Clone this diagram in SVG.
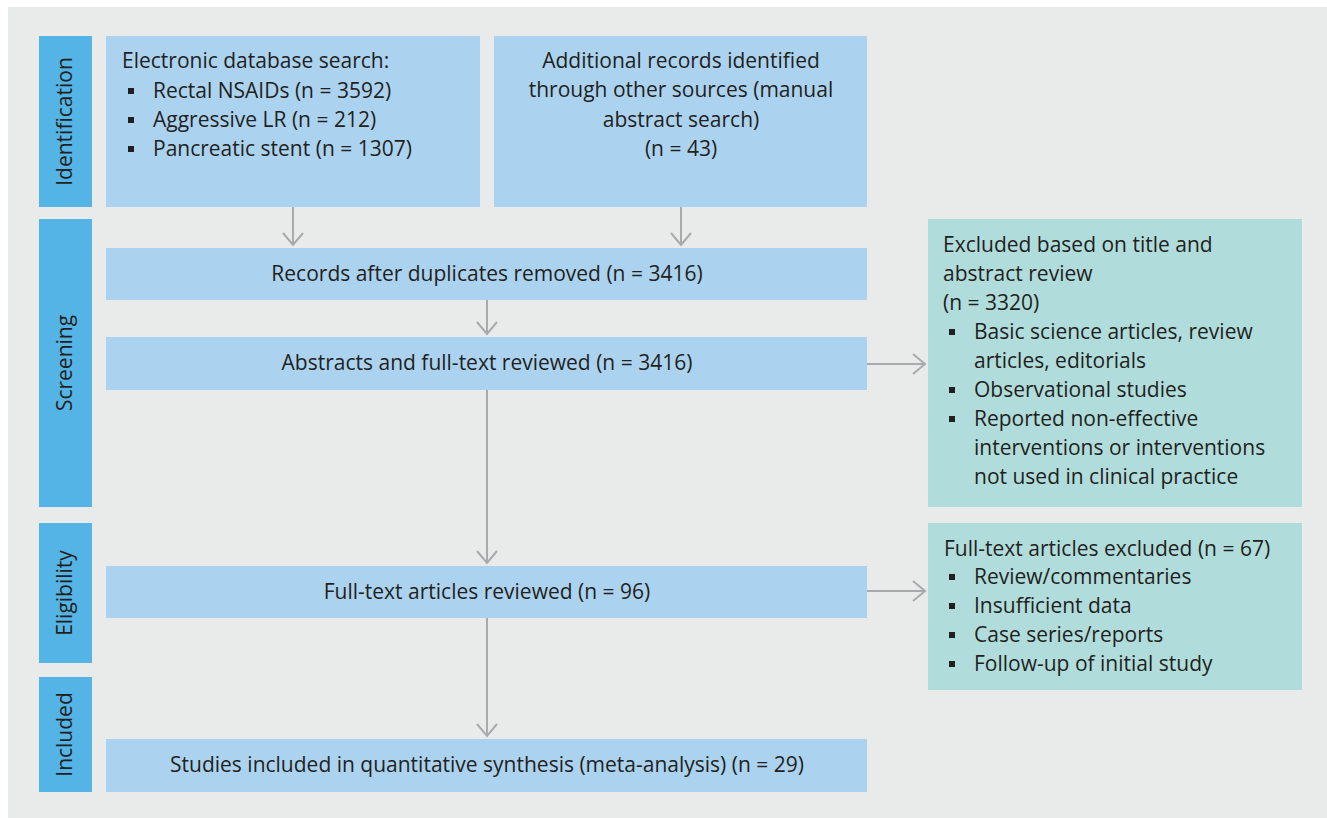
<svg xmlns="http://www.w3.org/2000/svg" width="1327" height="818" viewBox="0 0 1327 818">
<defs>
<style>
text{font-family:"Open Sans","Noto Sans","Liberation Sans",sans-serif;font-size:21px;fill:#231F20}
.side{fill:#55B4E6}
.box{fill:#ABD3F0}
.exc{fill:#B0DDDC}
.c{text-anchor:middle}
.conn line,.conn polyline{stroke:#A9AAAC;stroke-width:2;fill:none}
.bul{fill:#231F20}
</style>
</defs>
<rect x="0" y="0" width="1327" height="818" fill="#FFFFFF"/>
<rect x="8" y="7" width="1319" height="811" fill="#E9EBEB"/>

<g id="side-identification"><rect class="side" x="39" y="36" width="53" height="171"/><text class="c" transform="translate(72,121.5) rotate(-90)">Identification</text></g>
<g id="side-screening"><rect class="side" x="39" y="219" width="53" height="288"/><text class="c" transform="translate(72,363) rotate(-90)">Screening</text></g>
<g id="side-eligibility"><rect class="side" x="39" y="523" width="53" height="140"/><text class="c" transform="translate(72,593) rotate(-90)">Eligibility</text></g>
<g id="side-included"><rect class="side" x="39" y="677" width="53" height="115"/><text class="c" transform="translate(72,734.5) rotate(-90)">Included</text></g>

<g id="n-electronic"><rect class="box" x="106" y="36" width="374" height="171"/>
<text x="122" y="68">Electronic database search:</text>
<rect class="bul" x="128" y="88" width="6" height="6"/><text x="153" y="98">Rectal NSAIDs (n = 3592)</text>
<rect class="bul" x="128" y="117" width="6" height="6"/><text x="153" y="127">Aggressive LR (n = 212)</text>
<rect class="bul" x="128" y="146" width="6" height="6"/><text x="153" y="156">Pancreatic stent (n = 1307)</text>
</g>
<g id="n-additional"><rect class="box" x="494" y="36" width="373" height="171"/>
<text class="c" x="681" y="68">Additional records identified</text>
<text class="c" x="681" y="97">through other sources (manual</text>
<text class="c" x="681" y="127">abstract search)</text>
<text class="c" x="681" y="156">(n = 43)</text>
</g>
<g id="n-records"><rect class="box" x="106" y="248" width="761" height="52"/><text class="c" x="487" y="281">Records after duplicates removed (n = 3416)</text></g>
<g id="n-abstracts"><rect class="box" x="106" y="337" width="761" height="53"/><text class="c" x="487" y="370">Abstracts and full-text reviewed (n = 3416)</text></g>
<g id="n-fulltext"><rect class="box" x="106" y="566" width="761" height="52"/><text class="c" x="487" y="599">Full-text articles reviewed (n = 96)</text></g>
<g id="n-included"><rect class="box" x="106" y="739" width="761" height="53"/><text class="c" x="487" y="772">Studies included in quantitative synthesis (meta-analysis) (n = 29)</text></g>

<g id="n-excluded1"><rect class="exc" x="928" y="219" width="374" height="288"/>
<text x="943" y="252">Excluded based on title and</text>
<text x="943" y="281">abstract review</text>
<text x="943" y="310">(n = 3320)</text>
<rect class="bul" x="949" y="329" width="6" height="6"/><text x="974" y="339">Basic science articles, review</text>
<text x="974" y="368">articles, editorials</text>
<rect class="bul" x="949" y="387" width="6" height="6"/><text x="974" y="397">Observational studies</text>
<rect class="bul" x="949" y="416" width="6" height="6"/><text x="974" y="426">Reported non-effective</text>
<text x="974" y="455">interventions or interventions</text>
<text x="974" y="484">not used in clinical practice</text>
</g>
<g id="n-excluded2"><rect class="exc" x="928" y="523" width="374" height="167"/>
<text x="944" y="556">Full-text articles excluded (n = 67)</text>
<rect class="bul" x="949" y="574" width="6" height="6"/><text x="974" y="584">Review/commentaries</text>
<rect class="bul" x="949" y="603" width="6" height="6"/><text x="974" y="613">Insufficient data</text>
<rect class="bul" x="949" y="632" width="6" height="6"/><text x="974" y="642">Case series/reports</text>
<rect class="bul" x="949" y="661" width="6" height="6"/><text x="974" y="671">Follow-up of initial study</text>
</g>

<g id="connectors" class="conn">
<line x1="293" y1="207" x2="293" y2="245"/><polyline points="283,233 293,245 303,233"/>
<line x1="681" y1="207" x2="681" y2="245"/><polyline points="671,233 681,245 691,233"/>
<line x1="487" y1="300" x2="487" y2="334"/><polyline points="477,322 487,334 497,322"/>
<line x1="487" y1="390" x2="487" y2="563"/><polyline points="477,551 487,563 497,551"/>
<line x1="487" y1="618" x2="487" y2="736"/><polyline points="477,724 487,736 497,724"/>
<line x1="867" y1="364" x2="925" y2="364"/><polyline points="913,354 925,364 913,374"/>
<line x1="867" y1="591" x2="925" y2="591"/><polyline points="913,581 925,591 913,601"/>
</g>
</svg>
